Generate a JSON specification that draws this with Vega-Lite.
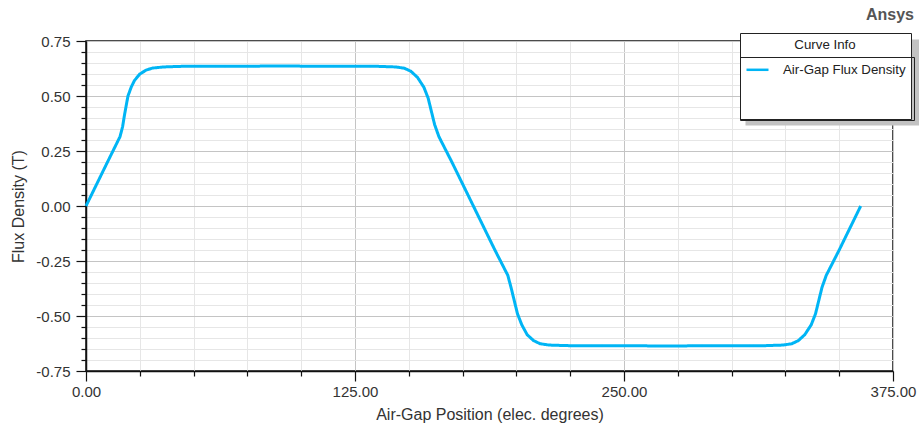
{
  "$schema": "https://vega.github.io/schema/vega-lite/v6.json",
  "width": 807,
  "height": 330,
  "autosize": {"type": "none"},
  "padding": {"left": 86, "top": 41, "right": 26, "bottom": 59},
  "background": "white",
  "config": {
    "font": "Liberation Sans",
    "view": {"stroke": "#111", "strokeWidth": 1.5},
    "axis": {
      "domainColor": "#111", "domainWidth": 1.5, "tickColor": "#111", "tickWidth": 1.2,
      "labelColor": "#333", "labelFontSize": 15, "titleColor": "#333", "titleFontSize": 16, "titleFontWeight": "normal",
      "gridWidth": 1
    }
  },
  "title": {"text": "Ansys", "anchor": "end", "frame": "group", "fontSize": 16, "fontWeight": "bold", "color": "#555", "dx": 21, "offset": 10},
  "data": {"values": [
    {"pos": 0, "b": 0.0}, {"pos": 5, "b": 0.10}, {"pos": 10, "b": 0.20}, {"pos": 15.8, "b": 0.315},
    {"pos": 17, "b": 0.36}, {"pos": 18, "b": 0.42}, {"pos": 19.5, "b": 0.50}, {"pos": 21, "b": 0.54},
    {"pos": 22.5, "b": 0.57}, {"pos": 25, "b": 0.60}, {"pos": 28, "b": 0.618}, {"pos": 31, "b": 0.627},
    {"pos": 36, "b": 0.632}, {"pos": 45, "b": 0.635}, {"pos": 90, "b": 0.636}, {"pos": 135, "b": 0.635},
    {"pos": 144, "b": 0.632}, {"pos": 148, "b": 0.626}, {"pos": 151, "b": 0.612}, {"pos": 154, "b": 0.585},
    {"pos": 157, "b": 0.54}, {"pos": 159, "b": 0.49}, {"pos": 160.5, "b": 0.43}, {"pos": 162, "b": 0.37},
    {"pos": 164, "b": 0.315}, {"pos": 170, "b": 0.20}, {"pos": 175, "b": 0.10}, {"pos": 180, "b": 0.0},
    {"pos": 185, "b": -0.10}, {"pos": 190, "b": -0.20}, {"pos": 196, "b": -0.315}, {"pos": 197.5, "b": -0.37},
    {"pos": 199, "b": -0.43}, {"pos": 200.5, "b": -0.49}, {"pos": 202.5, "b": -0.54}, {"pos": 205, "b": -0.585},
    {"pos": 208, "b": -0.612}, {"pos": 211, "b": -0.626}, {"pos": 215, "b": -0.632}, {"pos": 225, "b": -0.635},
    {"pos": 270, "b": -0.636}, {"pos": 315, "b": -0.635}, {"pos": 324, "b": -0.632}, {"pos": 328, "b": -0.626},
    {"pos": 331, "b": -0.612}, {"pos": 334, "b": -0.585}, {"pos": 337, "b": -0.54}, {"pos": 339, "b": -0.49},
    {"pos": 340.5, "b": -0.43}, {"pos": 342, "b": -0.37}, {"pos": 344, "b": -0.315}, {"pos": 350, "b": -0.20},
    {"pos": 355, "b": -0.10}, {"pos": 360, "b": 0.0}
  ]},
  "mark": {"type": "line", "strokeWidth": 3},
  "encoding": {
    "x": {
      "field": "pos", "type": "quantitative",
      "scale": {"domain": [0, 375], "nice": false, "zero": false},
      "axis": {
        "title": "Air-Gap Position (elec. degrees)",
        "values": [0, 25, 50, 75, 100, 125, 150, 175, 200, 225, 250, 275, 300, 325, 350, 375],
        "labelExpr": "datum.value % 125 === 0 ? format(datum.value, '.2f') : ''",
        "labelFlush": false, "labelOverlap": false, "labelPadding": 3,
        "grid": true,
        "gridColor": {"condition": {"test": "datum.value % 125 === 0", "value": "#c4c4c4"}, "value": "#e6e6e6"},
        "tickSize": {"condition": {"test": "datum.value % 125 === 0", "value": 10}, "value": 5},
        "titleY": 43, "titleBaseline": "middle"
      }
    },
    "y": {
      "field": "b", "type": "quantitative",
      "scale": {"domain": [-0.75, 0.75], "nice": false, "zero": false},
      "axis": {
        "title": "Flux Density (T)",
        "values": [-0.75, -0.7, -0.65, -0.6, -0.55, -0.5, -0.45, -0.4, -0.35, -0.3, -0.25, -0.2, -0.15, -0.1, -0.05, 0, 0.05, 0.1, 0.15, 0.2, 0.25, 0.3, 0.35, 0.4, 0.45, 0.5, 0.55, 0.6, 0.65, 0.7, 0.75],
        "labelExpr": "abs(datum.value*4 - round(datum.value*4)) < 0.001 ? (datum.value < -0.001 ? '-' : '') + format(abs(datum.value), '.2f') : ''",
        "labelFlush": false, "labelOverlap": false, "labelPadding": 6,
        "grid": true,
        "gridColor": {"condition": {"test": "abs(datum.value*4 - round(datum.value*4)) < 0.001", "value": "#c4c4c4"}, "value": "#e6e6e6"},
        "tickSize": {"condition": {"test": "abs(datum.value*4 - round(datum.value*4)) < 0.001", "value": 10}, "value": 5},
        "titleX": -68, "titleY": 165, "titleAngle": -90, "titleAlign": "center", "titleBaseline": "middle"
      }
    },
    "color": {
      "datum": "Air-Gap Flux Density", "type": "nominal",
      "scale": {"domain": ["Air-Gap Flux Density", " "], "range": ["#00b5f5", "rgba(0,0,0,0)"]},
      "legend": {
        "orient": "none", "legendX": 654, "legendY": -8, "zindex": 2,
        "title": "Curve Info", "titleAnchor": "middle", "titleFontSize": 13.3, "titleFontWeight": "normal", "titleColor": "#222", "titlePadding": 6,
        "labelFontSize": 13.3, "labelColor": "#222", "labelOffset": 13, "labelLimit": 300,
        "symbolType": "stroke", "symbolSize": 484, "symbolStrokeWidth": 2.5,
        "padding": 5, "rowPadding": 18, "strokeColor": "#222", "fillColor": "white"
      }
    },
    "opacity": {
      "datum": "Air-Gap Flux Density", "type": "nominal",
      "scale": {"domain": ["Air-Gap Flux Density", "   "], "range": [1, 1]},
      "legend": {
        "orient": "none", "legendX": 654, "legendY": 16, "zindex": 3,
        "title": null,
        "labelExpr": "''", "labelFontSize": 13.3, "labelColor": "rgba(0,0,0,0)", "labelOffset": 139, "labelLimit": 300,
        "symbolType": "stroke", "symbolSize": 484, "symbolStrokeWidth": 2.5, "symbolStrokeColor": "rgba(0,0,0,0)", "symbolOpacity": 0,
        "padding": 5, "rowPadding": 15, "strokeColor": "#222", "fillColor": "rgba(0,0,0,0)"
      }
    },
    "strokeDash": {
      "datum": "Air-Gap Flux Density", "type": "nominal",
      "scale": {"domain": ["Air-Gap Flux Density", "  "], "range": [[1, 0], [1, 0]]},
      "legend": {
        "orient": "none", "legendX": 659, "legendY": -2, "zindex": 1,
        "title": " ", "titleAnchor": "middle", "titleFontSize": 13.3, "titleFontWeight": "normal", "titleColor": "rgba(0,0,0,0)", "titlePadding": 6,
        "labelExpr": "''", "labelFontSize": 13.3, "labelColor": "rgba(0,0,0,0)", "labelOffset": 139, "labelLimit": 300,
        "symbolType": "stroke", "symbolSize": 484, "symbolStrokeWidth": 2.5, "symbolStrokeColor": "rgba(0,0,0,0)", "symbolOpacity": 0,
        "padding": 5, "rowPadding": 18, "strokeColor": "rgba(0,0,0,0)", "fillColor": "#c2c2c2"
      }
    }
  }
}
